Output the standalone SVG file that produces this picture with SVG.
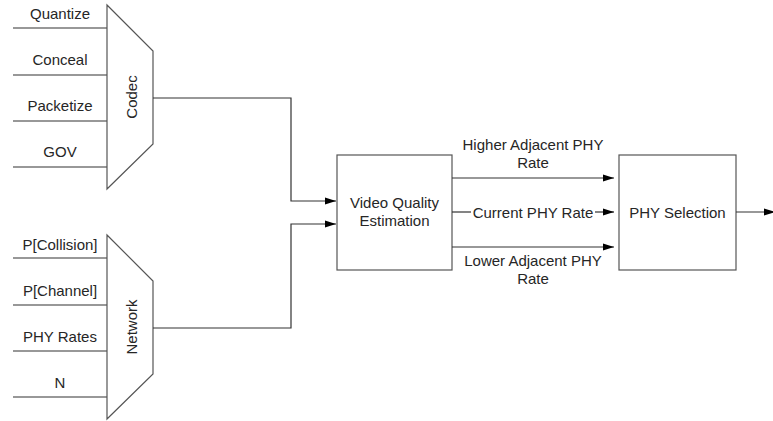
<svg xmlns="http://www.w3.org/2000/svg" width="773" height="421" viewBox="0 0 773 421">
<defs>
<marker id="ah" markerWidth="11" markerHeight="8" refX="11" refY="4" orient="auto" markerUnits="userSpaceOnUse">
<path d="M0,0.5 L11,4 L0,7.5 Z" fill="#000"/>
</marker>
<style>
.t{font-family:"Liberation Sans",Arial,sans-serif;font-size:15px;fill:#262626;text-anchor:middle}
.s{fill:#fff;stroke:#555;stroke-width:1.2}
.l{fill:none;stroke:#333;stroke-width:1.2}
.c{fill:none;stroke:#333;stroke-width:1.2}
</style>
</defs>
<rect width="773" height="421" fill="#fff"/>
<g id="codec">
<line class="l" x1="13" y1="28" x2="107" y2="28"/>
<line class="l" x1="13" y1="75" x2="107" y2="75"/>
<line class="l" x1="13" y1="121" x2="107" y2="121"/>
<line class="l" x1="13" y1="167" x2="107" y2="167"/>
<text class="t" x="60" y="19">Quantize</text>
<text class="t" x="60" y="65">Conceal</text>
<text class="t" x="60" y="111">Packetize</text>
<text class="t" x="60" y="157">GOV</text>
<polygon class="s" points="107,5 153,51 153,144 107,189"/>
<text class="t" transform="translate(136.5,97) rotate(-90)">Codec</text>
</g>
<g id="network">
<line class="l" x1="13" y1="258" x2="107" y2="258"/>
<line class="l" x1="13" y1="305" x2="107" y2="305"/>
<line class="l" x1="13" y1="351" x2="107" y2="351"/>
<line class="l" x1="13" y1="397" x2="107" y2="397"/>
<text class="t" x="60" y="249.5">P[Collision]</text>
<text class="t" x="60" y="295.5">P[Channel]</text>
<text class="t" x="60" y="341.5">PHY Rates</text>
<text class="t" x="60" y="387.5">N</text>
<polygon class="s" points="107,235 153,281 153,374 107,419"/>
<text class="t" transform="translate(136.5,327) rotate(-90)">Network</text>
</g>
<g id="vqe">
<rect class="s" x="337" y="155" width="115" height="115"/>
<text class="t" x="394.5" y="208">Video Quality</text>
<text class="t" x="394.5" y="226">Estimation</text>
</g>
<g id="phy">
<rect class="s" x="619" y="155" width="117" height="115"/>
<text class="t" x="677.5" y="217.5">PHY Selection</text>
</g>
<g id="connectors">
<polyline class="c" points="153,98 291,98 291,201 336,201" marker-end="url(#ah)"/>
<polyline class="c" points="153,328 291,328 291,224 336,224" marker-end="url(#ah)"/>
<line class="c" x1="452" y1="178" x2="614" y2="178" marker-end="url(#ah)"/>
<line class="c" x1="452" y1="212" x2="471" y2="212"/>
<line class="c" x1="595" y1="212" x2="614" y2="212" marker-end="url(#ah)"/>
<line class="c" x1="452" y1="247" x2="614" y2="247" marker-end="url(#ah)"/>
<line class="c" x1="736" y1="212" x2="775" y2="212" marker-end="url(#ah)"/>
<text class="t" x="533" y="150">Higher Adjacent PHY</text>
<text class="t" x="533" y="168">Rate</text>
<text class="t" x="533" y="217.5">Current PHY Rate</text>
<text class="t" x="533" y="266">Lower Adjacent PHY</text>
<text class="t" x="533" y="284">Rate</text>
</g>
</svg>
